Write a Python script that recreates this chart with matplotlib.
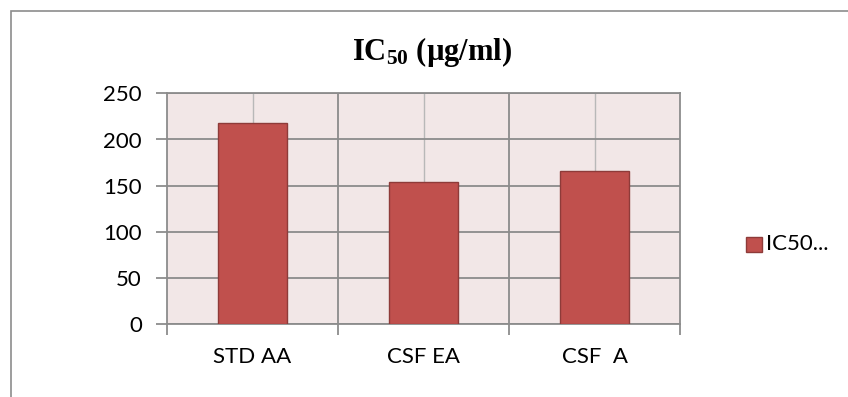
import matplotlib
matplotlib.use("Agg")
import matplotlib.pyplot as plt
from matplotlib.patches import Rectangle
import numpy as np

categories = ["STD AA", "CSF EA", "CSF  A"]
ic50_values = [218, 154.5, 165.5]
y_ticks = [0, 50, 100, 150, 200, 250]
series_label = "IC50..."

plt.rcParams["mathtext.fontset"] = "custom"
plt.rcParams["mathtext.rm"] = "Liberation Serif:bold"
plt.rcParams["mathtext.bf"] = "Liberation Serif:bold"

label_font = ["Lato", "DejaVu Sans"]
label_size = 16

fig = plt.figure(figsize=(8.48, 3.97), dpi=100)
fig.patch.set_facecolor("white")

# outer chart frame (only left and top edges fall inside the canvas)
fig.add_artist(Rectangle((10.5 / 848, -0.1), 1.2, 1 - 10.5 / 397 + 0.1,
                         transform=fig.transFigure, fill=False,
                         edgecolor="#8c8c8c", linewidth=1.2))

ax = fig.add_axes([167 / 848, 1 - 324.3 / 397, (680 - 167) / 848, (324.3 - 93.3) / 397])
ax.set_facecolor("#f2e7e7")

x = np.arange(len(categories))
ax.set_xlim(-0.5, len(categories) - 0.5)
ax.set_ylim(0, 250)

# light vertical lines at category centres, darker at category boundaries
for xc in x:
    ax.axvline(xc, color="#b8b8b8", linewidth=1.0, zorder=1)
for xb in x[:-1] + 0.5:
    ax.axvline(xb, color="#8c8c8c", linewidth=1.3, zorder=1)
for yv in y_ticks:
    ax.axhline(yv, color="#8c8c8c", linewidth=1.3, zorder=1)

ax.bar(x, ic50_values, width=0.40, color="#c0504d", edgecolor="#8e3b39",
       linewidth=1.0, zorder=3, label=series_label)

for s in ax.spines.values():
    s.set_color("#8c8c8c")
    s.set_linewidth(1.3)

ax.set_yticks(y_ticks)
ax.set_yticklabels([str(v) for v in y_ticks], fontfamily=label_font, fontsize=label_size)
ax.tick_params(axis="y", length=8, width=1.3, color="#8c8c8c", pad=10)

ax.set_xticks(x[:-1] + 0.5, minor=False)
ax.set_xticks([-0.5, 2.5], minor=True)
ax.set_xticklabels([])
ax.tick_params(axis="x", which="both", length=8, width=1.3, color="#8c8c8c")
for xc, name in zip(x, categories):
    ax.text(xc, -0.1, name, transform=ax.get_xaxis_transform(), ha="center",
            va="top", fontfamily=label_font, fontsize=label_size)

fig.text(432 / 848, 1 - 52 / 397, r"$\mathrm{IC_{50}}$ (µg/ml)",
         ha="center", va="center", fontfamily="Liberation Serif",
         fontweight="bold", fontsize=22)

# legend entry
fig.add_artist(Rectangle((746 / 848, 1 - 252 / 397), 16 / 848, 15 / 397,
                         transform=fig.transFigure, facecolor="#c0504d",
                         edgecolor="#8e3b39", linewidth=1.0))
fig.text(766 / 848, 1 - 244.5 / 397, series_label, ha="left", va="center",
         fontfamily=label_font, fontsize=label_size)

fig.savefig("out.png", dpi=100)
